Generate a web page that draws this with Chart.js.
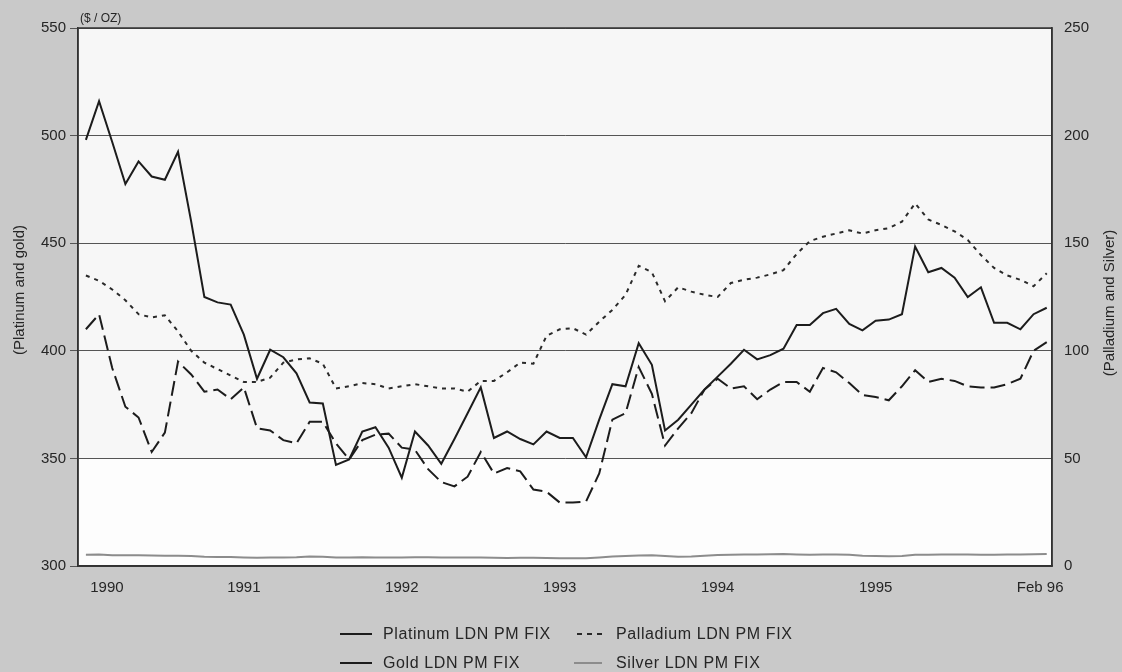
<!DOCTYPE html>
<html>
<head>
<meta charset="utf-8">
<script src="https://cdn.jsdelivr.net/npm/chart.js@4.4.1/dist/chart.umd.min.js"></script>
<style>
  html, body { margin: 0; padding: 0; background: #c9c9c9; }
</style>
</head>
<body>
<canvas id="myChart" width="1122" height="672"></canvas>
<script>
// monthly London PM fixes, Jan 1990 .. Feb 1996
var monthNames = ['Jan','Feb','Mar','Apr','May','Jun','Jul','Aug','Sep','Oct','Nov','Dec'];
var months = [];
for (var i = 0; i < 74; i++) months.push(monthNames[i % 12] + ' ' + (1990 + Math.floor(i / 12)));

var platinum = [498, 516, 497, 477.5, 488, 481, 479.5, 492.5, 460, 425, 422.5, 421.5,
    407.5, 387, 400.5, 397, 389.5, 376, 375.5, 347, 349.5, 362.5, 364.5, 355,
    341, 362.5, 356, 347.5, 359, 371, 383, 359.5, 362.5, 359, 356.5, 362.5,
    359.5, 359.5, 350.5, 368, 384.5, 383.5, 403.5, 393.5, 363, 368, 375, 382,
    388, 394, 400.5, 396, 398, 401, 412, 412, 417.5, 419.5, 412.5, 409.5,
    414, 414.5, 417, 448.5, 436.5, 438.5, 434, 425, 429.5, 413, 413, 410,
    417, 420];
var gold = [410, 417, 392, 374, 369, 353, 362, 395, 389, 381, 382, 377.5,
    383, 364, 363, 358.5, 357, 367, 367, 357, 349.5, 358.5, 361, 361.5,
    355, 354, 345, 339, 337, 341.5, 353, 343, 345.5, 344, 335.5, 334.5,
    329.5, 329.5, 330, 343, 368, 371, 392.5, 380, 356, 364, 371, 382,
    387, 382.5, 383.5, 377.5, 382, 385.5, 385.5, 381, 392, 390, 385, 379.5,
    378.5, 377, 383.5, 391, 385.5, 387, 386, 383.5, 383, 383, 384.5, 387,
    400, 404];
var palladium = [135, 132.5, 128.5, 123.5, 117, 115.5, 116.5, 109, 100, 94.5, 91.5, 88.5,
    85.5, 85.5, 87.5, 94.5, 96, 96.5, 94, 82.5, 83.5, 85, 84.5, 82.5,
    83.5, 84.5, 83.5, 82.5, 82.5, 81, 86, 86, 90, 94.5, 94, 107,
    110, 110.5, 107.5, 113.5, 119, 126, 139.5, 136.5, 123, 129.5, 127.5, 126,
    125, 131.5, 133, 134, 135.5, 137.5, 145, 151, 153, 154.5, 156, 154.5,
    156, 157, 160, 168.5, 161, 158.5, 155.5, 151.5, 144.5, 138.5, 135, 133,
    130, 136];
var silver = [5.2, 5.3, 5.0, 5.0, 5.0, 4.9, 4.8, 4.8, 4.7, 4.3, 4.2, 4.2,
    4.0, 3.8, 3.9, 4.0, 4.1, 4.4, 4.3, 4.0, 4.0, 4.1, 4.0, 3.9,
    4.0, 4.1, 4.1, 4.0, 4.0, 4.0, 4.0, 3.8, 3.7, 3.8, 3.8, 3.7,
    3.6, 3.6, 3.6, 4.0, 4.4, 4.6, 4.9, 5.0, 4.6, 4.3, 4.4, 4.8,
    5.1, 5.2, 5.4, 5.3, 5.5, 5.6, 5.4, 5.2, 5.3, 5.4, 5.2, 4.8,
    4.7, 4.5, 4.7, 5.2, 5.2, 5.3, 5.4, 5.3, 5.2, 5.2, 5.3, 5.3,
    5.5, 5.6];

var tickPos = [1.6, 12, 24, 36, 48, 60, 72.5];
var tickLabels = ['1990', '1991', '1992', '1993', '1994', '1995', 'Feb 96'];

function toPoints(arr) {
    return arr.map(function (v, i) { return { x: i, y: v }; });
}

var FONT = '"Liberation Sans", Arial, sans-serif';
var INK = '#262626';

var decor = {
    id: 'decor',
    beforeDraw: function (chart) {
        var ctx = chart.ctx, a = chart.chartArea;
        ctx.save();
        ctx.fillStyle = '#c9c9c9';
        ctx.fillRect(0, 0, chart.width, chart.height);
        ctx.fillStyle = '#f7f7f7';
        ctx.fillRect(a.left, a.top, a.right - a.left, a.bottom - a.top);
        ctx.fillStyle = '#fdfdfd';
        ctx.fillRect(a.left, chart.scales.y.getPixelForValue(350), a.right - a.left, chart.scales.y.getPixelForValue(300) - chart.scales.y.getPixelForValue(350));
        ctx.restore();
    },
    afterDraw: function (chart) {
        var ctx = chart.ctx, a = chart.chartArea;
        ctx.save();
        ctx.strokeStyle = '#333';
        ctx.lineWidth = 1.5;
        ctx.strokeRect(a.left, a.top, a.right - a.left, a.bottom - a.top);

        ctx.fillStyle = INK;
        ctx.font = '12px ' + FONT;
        ctx.textAlign = 'left';
        ctx.textBaseline = 'alphabetic';
        ctx.fillText('($ / OZ)', 80, 22);

        ctx.font = '15px ' + FONT;
        ctx.textAlign = 'center';
        ctx.textBaseline = 'middle';
        ctx.save();
        ctx.translate(20, 290);
        ctx.rotate(-Math.PI / 2);
        ctx.fillText('(Platinum and gold)', 0, 0);
        ctx.restore();
        ctx.save();
        ctx.translate(1110, 303);
        ctx.rotate(-Math.PI / 2);
        ctx.fillText('(Palladium and Silver)', 0, 0);
        ctx.restore();

        // legend, two columns
        var items = [[0, 340, 372, 383, 634], [2, 577, 602, 616, 634],
                     [1, 340, 372, 383, 663], [3, 574, 602, 616, 663]];
        ctx.font = '16px ' + FONT;
        ctx.textAlign = 'left';
        if ('letterSpacing' in ctx) ctx.letterSpacing = '0.6px';
        items.forEach(function (it) {
            var ds = chart.data.datasets[it[0]];
            ctx.beginPath();
            ctx.strokeStyle = ds.borderColor;
            ctx.lineWidth = ds.borderWidth;
            ctx.setLineDash(ds.legendDash || []);
            ctx.moveTo(it[1], it[4]);
            ctx.lineTo(it[2], it[4]);
            ctx.stroke();
            ctx.setLineDash([]);
            ctx.fillStyle = INK;
            ctx.fillText(ds.label, it[3], it[4] + 1);
        });
        ctx.restore();
    }
};

var ctx = document.getElementById('myChart').getContext('2d');
var myChart = new Chart(ctx, {
    type: 'line',
    data: {
        labels: months,
        datasets: [{
            label: 'Platinum LDN PM FIX',
            data: toPoints(platinum),
            borderColor: '#1c1c1c',
            borderWidth: 2,
            yAxisID: 'y'
        }, {
            label: 'Gold LDN PM FIX',
            data: toPoints(gold),
            borderColor: '#1c1c1c',
            borderWidth: 2,
            borderDash: [15, 6],
            yAxisID: 'y'
        }, {
            label: 'Palladium LDN PM FIX',
            data: toPoints(palladium),
            borderColor: '#2a2a2a',
            borderWidth: 2,
            borderDash: [4, 5],
            legendDash: [5, 5],
            yAxisID: 'y1'
        }, {
            label: 'Silver LDN PM FIX',
            data: toPoints(silver),
            borderColor: '#8c8c8c',
            borderWidth: 2,
            legendDash: [],
            yAxisID: 'y1'
        }]
    },
    options: {
        responsive: false,
        animation: false,
        elements: { point: { radius: 0 }, line: { tension: 0 } },
        layout: { padding: { top: 28, bottom: 66, left: 0, right: 0 } },
        plugins: {
            legend: { display: false },
            tooltip: { enabled: false }
        },
        scales: {
            x: {
                type: 'linear',
                min: -0.6,
                max: 73.4,
                afterBuildTicks: function (s) {
                    s.ticks = tickPos.map(function (v) { return { value: v }; });
                },
                afterFit: function (s) { s.height = 40; },
                grid: { display: false, drawTicks: false },
                border: { display: true, color: '#333', width: 1.5 },
                ticks: {
                    autoSkip: false,
                    maxRotation: 0,
                    padding: 13,
                    color: INK,
                    font: { family: FONT, size: 15 },
                    callback: function (v, i) { return tickLabels[i]; }
                }
            },
            y: {
                position: 'left',
                min: 300,
                max: 550,
                afterFit: function (s) { s.width = 78; },
                grid: { color: '#555', lineWidth: 1, tickLength: 8, drawTicks: true },
                border: { display: true, color: '#333', width: 1.5 },
                ticks: {
                    stepSize: 50,
                    padding: 4,
                    color: INK,
                    font: { family: FONT, size: 15 }
                }
            },
            y1: {
                position: 'right',
                min: 0,
                max: 250,
                afterFit: function (s) { s.width = 70; },
                grid: { drawOnChartArea: false, drawTicks: false },
                border: { display: true, color: '#333', width: 1.5 },
                ticks: {
                    stepSize: 50,
                    padding: 12,
                    color: INK,
                    font: { family: FONT, size: 15 }
                }
            }
        }
    },
    plugins: [decor]
});
</script>
</body>
</html>
